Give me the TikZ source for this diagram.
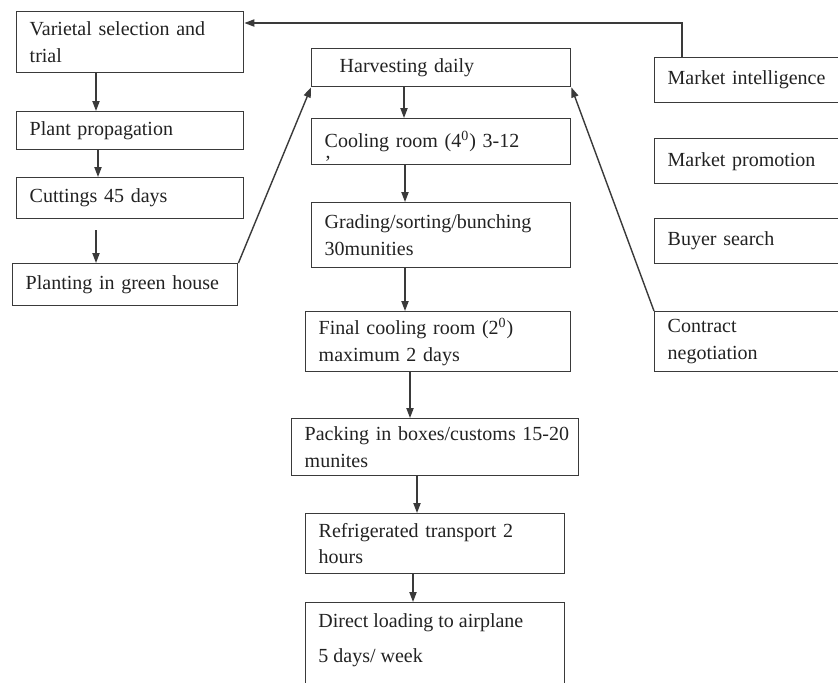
\documentclass[tikz,border=0pt]{standalone}
\usepackage{fontspec}
\setmainfont{Liberation Serif}
\usetikzlibrary{arrows.meta}
\definecolor{lc}{HTML}{3A3A3A}
\definecolor{tc}{HTML}{222222}
\newcommand{\boxfont}{\fontsize{10pt}{13.3pt}\selectfont}
\begin{document}
\begin{tikzpicture}[x=0.5pt,y=-0.5pt,
  box/.style={draw=lc, line width=0.7pt, inner xsep=6.5pt, inner ysep=0pt,
    anchor=north west, align=left, text=tc, font=\boxfont},
  arr/.style={draw=lc, line width=0.7pt, -{Triangle[length=5pt,width=3.6pt]}}]
\useasboundingbox (0,0) rectangle (838,682);
\clip (0,0) rectangle (838,682);
\fill[white] (0,0) rectangle (838,682);
% left column
\node[box, text width=100.5pt, minimum height=30.5pt] (var) at (16,11) {Varietal selection and\\trial};
\node[box, text width=100.5pt, minimum height=19pt] (prop) at (16,111) {Plant propagation};
\node[box, text width=100.5pt, minimum height=20.5pt] (cut) at (16,177) {Cuttings 45 days};
\node[box, text width=99.5pt, minimum height=21pt] (plant) at (12,263) {Planting in green house};
% middle column
\node[box, text width=116.5pt, minimum height=19pt] (harv) at (311,48) {\hspace*{7.5pt}Harvesting daily};
\node[box, text width=116.5pt, minimum height=23pt] (cool) at (311,118)
  {\rlap{\smash{\raisebox{-11pt}{’}}}Cooling room (4\textsuperscript{0}) 3-12};
\node[box, text width=116.5pt, minimum height=32.5pt] (grad) at (311,202) {Grading/sorting/bunching\\30munities};
\node[box, text width=119.5pt, minimum height=30pt] (final) at (305,311) {Final cooling room (2\textsuperscript{0})\\maximum 2 days};
\node[box, text width=130.5pt, minimum height=28.5pt] (pack) at (291,418) {\mbox{Packing in boxes/customs 15-20}\\munites};
\node[box, text width=116.5pt, minimum height=30pt] (refr) at (305,513) {Refrigerated transport 2\\hours};
\node[box, text width=116.5pt, minimum height=60pt] (direct) at (305,602) {};
\node[anchor=north west, inner sep=0pt, align=left, text=tc, font=\boxfont] (dtext) at (318,613)
  {Direct loading to airplane\\[4.2pt]5 days/ week};
% right column
\node[box, text width=90pt, minimum height=22.5pt] (mi) at (654,57) {Market intelligence};
\node[box, text width=90pt, minimum height=22.5pt] (mp) at (654,138) {Market promotion};
\node[box, text width=90pt, minimum height=22.5pt] (bs) at (654,218) {Buyer search};
\node[box, text width=90pt, minimum height=30pt] (cn) at (654,311) {Contract\\negotiation};
% helper coordinates
\coordinate (xa) at (96,0);
\coordinate (xb) at (98,0);
\coordinate (ya) at (0,230);
\coordinate (xc) at (404,0);
\coordinate (xd) at (405,0);
\coordinate (xe) at (410,0);
\coordinate (xf) at (417,0);
\coordinate (xg) at (413,0);
\coordinate (tl) at (682,23);
% connectors
\draw[arr] (var.south -| xa) -- (prop.north -| xa);
\draw[arr] (prop.south -| xb) -- (cut.north -| xb);
\draw[arr] (xa |- ya) -- (plant.north -| xa);
\draw[arr] (plant.north east) -- (harv.south west);
\draw[arr] (harv.south -| xc) -- (cool.north -| xc);
\draw[arr] (cool.south -| xd) -- (grad.north -| xd);
\draw[arr] (grad.south -| xd) -- (final.north -| xd);
\draw[arr] (final.south -| xe) -- (pack.north -| xe);
\draw[arr] (pack.south -| xf) -- (refr.north -| xf);
\draw[arr] (refr.south -| xg) -- (direct.north -| xg);
\draw[arr] (cn.north west) -- (harv.south east);
\draw[arr] (mi.north -| tl) -- (tl) -- (var.east |- tl);
\end{tikzpicture}
\end{document}
